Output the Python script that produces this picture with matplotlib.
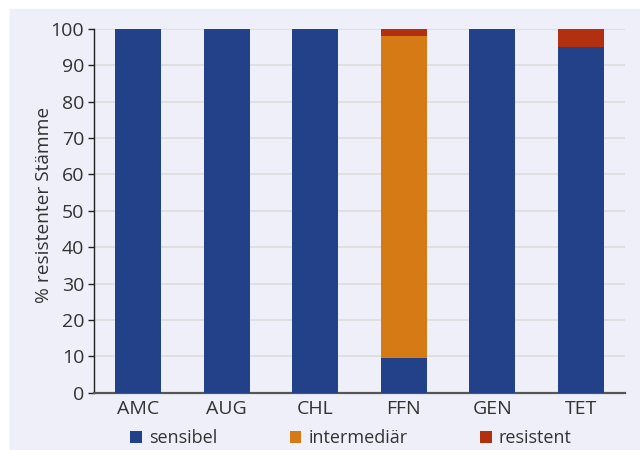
import matplotlib.pyplot as plt
from matplotlib.patches import Rectangle

plt.rcParams['font.family'] = ['Open Sans', 'DejaVu Sans']

categories = ["AMC", "AUG", "CHL", "FFN", "GEN", "TET"]
sensibel = [100, 100, 100, 9.5, 100, 95]
intermediaer = [0, 0, 0, 88.5, 0, 0]
resistent = [0, 0, 0, 2, 0, 5]

c_sens = '#224188'
c_inter = '#d57a15'
c_res = '#b03010'
bg = '#efeff9'

fig = plt.figure(figsize=(6.4, 4.5), dpi=100)
fig.patches.append(Rectangle((10 / 640, 0), 1, (450 - 9) / 450,
                             transform=fig.transFigure, color=bg, zorder=-10))
ax = fig.add_axes([94 / 640, 57.3 / 450, 531 / 640, 363.7 / 450])
ax.set_zorder(1)
ax.set_facecolor(bg)

x = range(len(categories))
w = 0.52
bottom2 = [s + i for s, i in zip(sensibel, intermediaer)]
ax.bar(x, sensibel, w, color=c_sens, label="sensibel", zorder=3)
ax.bar(x, intermediaer, w, bottom=sensibel, color=c_inter, label="intermediär", zorder=3)
ax.bar(x, resistent, w, bottom=bottom2, color=c_res, label="resistent", zorder=3)

ax.set_xlim(-0.5, 5.5)
ax.set_ylim(0, 100)
ax.set_yticks(range(0, 101, 10))
ax.set_xticks(list(x))
ax.set_xticklabels(categories)
ax.yaxis.grid(True, color='#dcdcdc', linewidth=1.2, zorder=0)
ax.set_axisbelow(True)
ax.tick_params(axis='y', labelsize=14, length=4, width=1, color='#222222', pad=3)
ax.tick_params(axis='x', labelsize=14, length=0, pad=5)
for lab in ax.get_xticklabels() + ax.get_yticklabels():
    lab.set_color('#333333')

for s in ['top', 'right']:
    ax.spines[s].set_visible(False)
ax.spines['left'].set_color('#222222')
ax.spines['left'].set_linewidth(1)
ax.spines['bottom'].set_color('#555555')
ax.spines['bottom'].set_linewidth(1.6)

ax.set_ylabel("% resistenter Stämme", fontsize=13.8, color='#333333')
ax.yaxis.set_label_coords(-0.077, 0.516)

ax.legend(loc='center', bbox_to_anchor=(0.484, -0.1245), ncol=3,
          frameon=False, fontsize=13, handlelength=0.65, handleheight=0.65,
          handletextpad=0.4, columnspacing=4.0, labelcolor='#333333',
          borderpad=0)

plt.savefig("out.png", dpi=100)
